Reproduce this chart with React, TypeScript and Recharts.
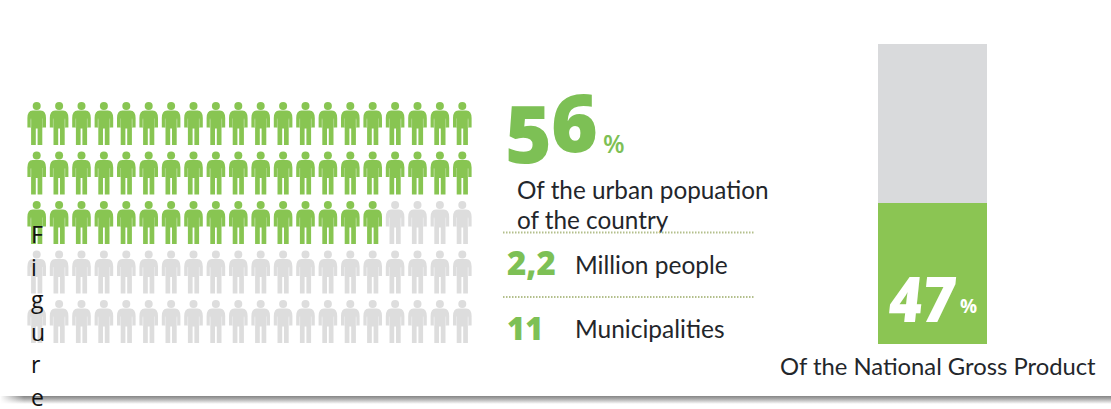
import React from "react";
import { Bar, BarChart, Scatter, ScatterChart, XAxis, YAxis } from "recharts";

// Pictogram grid: one person per percentage point of the urban population.
const columns = [0, 1, 2, 3, 4, 5, 6, 7, 8, 9, 10, 11, 12, 13, 14, 15, 16, 17, 18, 19];
const rows = [0, 1, 2, 3, 4];
const filledPerRow = [20, 20, 16, 0, 0];

// Share of the national gross product.
const gdpShare = [47];
const gdpRest = [53];

const urbanShareDigits = ["5", "6"];
const detailValues = ["2,2", "11"];
const detailNames = ["Million people", "Municipalities"];
const urbanCaption = ["Of the urban popuation", "of the country"];
const gdpCaption = "Of the National Gross Product";
const sideLetters = ["F", "i", "g", "u", "r", "e"];

const GREEN = "#88c552";
const HEADLINE_GREEN = "#7dc055";
const GREY = "#dddddd";
const BAR_GREEN = "#8bc553";
const BAR_GREY = "#d9dadc";
const INK = "#23262b";
const FONT = "Lato, 'Noto Sans', sans-serif";
const DISPLAY = "'Open Sans', sans-serif";

const people = rows.flatMap((row) =>
  columns.map((col) => ({ col, row, filled: col < filledPerRow[row] }))
);
const gdpData = [{ name: "GDP", share: gdpShare[0], rest: gdpRest[0] }];

// Standing figure centred on the scatter point.
function Person(props: any) {
  const { cx, cy, payload } = props;
  const fill = payload.filled ? GREEN : GREY;
  const arm = payload.filled ? "#a4d37c" : "#e8e8e9";
  return (
    <g transform={`translate(${cx},${cy})`}>
      <circle cx={0} cy={-17.6} r={4} fill={fill} />
      <path
        d="M-9.3 -5.5 Q-9.3 -12.6 -4 -13 L4 -13 Q9.3 -12.6 9.3 -5.5 L9.3 4 L6 4 L6 -4 L5.6 -4 L5.6 3 L5.6 21.6 L0.9 21.6 L0.9 5 L-0.9 5 L-0.9 21.6 L-5.6 21.6 L-5.6 3 L-5.6 -4 L-6 -4 L-6 4 L-9.3 4 Z"
        fill={fill}
      />
      <rect x={-6.3} y={-5} width={1} height={9} fill={arm} />
      <rect x={5.3} y={-5} width={1} height={9} fill={arm} />
    </g>
  );
}

function Txt(props: any) {
  return <text fontFamily={FONT} fill={INK} {...props} />;
}

export default function App() {
  return (
    <div style={{ position: "absolute", left: 0, top: 0, width: 1111, height: 409, background: "#fff", overflow: "hidden" }}>
      <div style={{ position: "absolute", left: 0, top: 0 }}>
        <ScatterChart width={500} height={409} margin={{ left: 25.5, right: 26.5, top: 98.75, bottom: 62.75 }}>
          <XAxis type="number" dataKey="col" domain={[-0.5, 19.5]} hide />
          <YAxis type="number" dataKey="row" domain={[-0.5, 4.5]} reversed hide />
          <Scatter data={people} shape={<Person />} isAnimationActive={false} />
        </ScatterChart>
      </div>

      <div style={{ position: "absolute", left: 878, top: 44 }}>
        <BarChart width={109} height={300} data={gdpData} margin={{ left: 0, right: 0, top: 0, bottom: 0 }} barCategoryGap={0}>
          <XAxis dataKey="name" hide />
          <YAxis type="number" domain={[0, 100]} hide />
          <Bar dataKey="share" stackId="gdp" fill={BAR_GREEN} isAnimationActive={false} />
          <Bar dataKey="rest" stackId="gdp" fill={BAR_GREY} isAnimationActive={false} />
        </BarChart>
      </div>

      <svg width={1111} height={409} style={{ position: "absolute", left: 0, top: 0 }}>
        <defs>
          <linearGradient id="edgeShadow" x1="0" y1="0" x2="0" y2="1">
            <stop offset="0" stopColor="#858585" />
            <stop offset="0.35" stopColor="#a8a8a8" />
            <stop offset="1" stopColor="#ffffff" />
          </linearGradient>
          <linearGradient id="edgeFade" x1="0" y1="0" x2="1" y2="0">
            <stop offset="0" stopColor="#ffffff" />
            <stop offset="1" stopColor="#ffffff" stopOpacity="0" />
          </linearGradient>
        </defs>
        <rect x={0} y={396} width={1111} height={8} fill="url(#edgeShadow)" />
        <rect x={0} y={394} width={24} height={11} fill="url(#edgeFade)" />

        {/* Urban population headline: the two digits step upward */}
        <text x={505} y={163} fontFamily={DISPLAY} fontWeight={800} fontSize={80} fill={HEADLINE_GREEN}>
          {urbanShareDigits[0]}
        </text>
        <text x={551} y={152} fontFamily={DISPLAY} fontWeight={800} fontSize={80} fill={HEADLINE_GREEN}>
          {urbanShareDigits[1]}
        </text>
        <text x={603} y={153} fontFamily={DISPLAY} fontWeight={600} fontSize={25} fill={HEADLINE_GREEN}>
          %
        </text>
        <Txt x={517} y={199} fontSize={24.3}>{urbanCaption[0]}</Txt>
        <Txt x={517} y={229} fontSize={24.3}>{urbanCaption[1]}</Txt>

        <line x1={503} x2={755} y1={232.5} y2={232.5} stroke="#b3bf8c" strokeWidth={2} strokeDasharray="1.5 1.5" />
        <line x1={503} x2={755} y1={297} y2={297} stroke="#b3bf8c" strokeWidth={2} strokeDasharray="1.5 1.5" />

        <text x={507} y={275} fontFamily={DISPLAY} fontWeight={800} fontSize={33} fill={HEADLINE_GREEN}>
          {detailValues[0]}
        </text>
        <text x={507} y={340} fontFamily={DISPLAY} fontWeight={800} fontSize={31} fill={HEADLINE_GREEN}>
          {detailValues[1]}
        </text>
        <Txt x={575} y={274} fontSize={24.5}>{detailNames[0]}</Txt>
        <Txt x={575} y={338} fontSize={24.5}>{detailNames[1]}</Txt>

        {/* Label inside the GDP bar */}
        <text
          x={886}
          y={322}
          fontFamily={DISPLAY}
          fontWeight={800}
          fontSize={63}
          fill="#ffffff"
          textLength={66}
          lengthAdjust="spacingAndGlyphs"
          transform="skewX(-6) translate(35 0)"
        >
          {gdpShare[0]}
        </text>
        <text x={960} y={313} fontFamily={DISPLAY} fontWeight={700} fontSize={19} fill="#ffffff">
          %
        </text>
        <Txt x={780} y={375} fontSize={23.8}>{gdpCaption}</Txt>

        {sideLetters.map((ch, i) => (
          <text key={i} x={31} y={243 + i * 32.6} fontFamily={DISPLAY} fontSize={23} fill="#111">
            {ch}
          </text>
        ))}
      </svg>
    </div>
  );
}
